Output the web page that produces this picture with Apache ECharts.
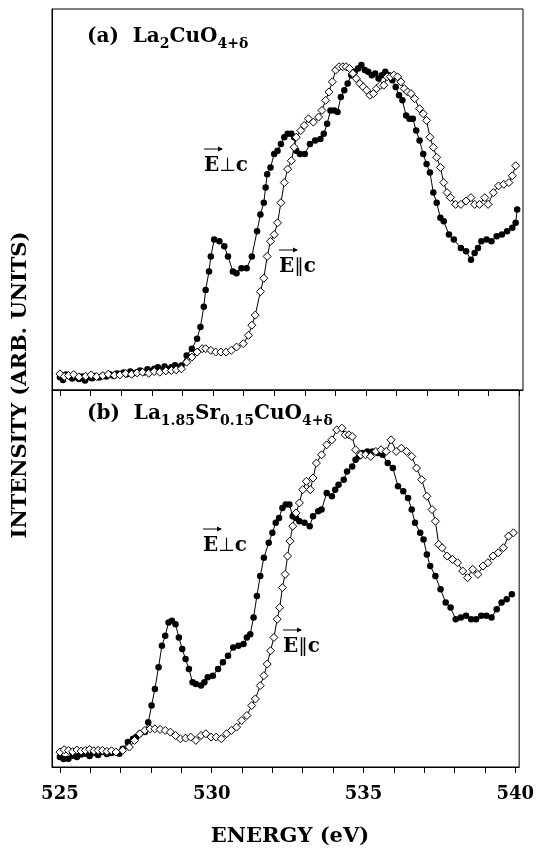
<!DOCTYPE html>
<html>
<head>
<meta charset="utf-8">
<script src="https://cdn.jsdelivr.net/npm/echarts@6/dist/echarts.min.js"></script>
<style>
html,body{margin:0;padding:0;background:#fff;}
#chart{width:537px;height:850px;}
</style>
</head>
<body>
<div id="chart"></div>
<script>
// ---------- DATA (energy in eV, intensity in arbitrary units) ----------
// Panel (a) La2CuO4+d, E perpendicular c (filled circles)
var aPerpE = [
525.00,525.10,525.20,525.28,525.40,525.50,525.62,525.72,525.82,525.95,
526.05,526.15,526.28,526.40,526.52,526.64,526.76,526.86,526.96,527.08,
527.18,527.30,527.40,527.52,527.62,527.74,527.86,527.96,528.08,528.20,
528.32,528.42,528.54,528.64,528.76,528.86,528.97,529.14,529.31,529.48,
529.59,529.70,529.76,529.87,529.93,530.04,530.21,530.37,530.49,530.65,
530.77,530.93,531.10,531.27,531.44,531.55,531.66,531.72,531.77,531.88,
532.00,532.11,532.22,532.33,532.44,532.56,532.65,532.72,532.84,533.00,
533.17,533.34,533.51,533.62,533.73,533.84,533.96,534.07,534.18,534.29,
534.40,534.52,534.63,534.74,534.85,534.96,535.07,535.19,535.30,535.41,
535.52,535.63,535.75,535.86,535.97,536.08,536.19,536.31,536.42,536.53,
536.64,536.75,536.87,536.98,537.09,537.20,537.31,537.43,537.54,537.71,
537.87,538.10,538.27,538.43,538.55,538.66,538.77,538.94,539.10,539.27,
539.44,539.61,539.78,539.89,539.94];
var aPerpI = [
3.8,3.0,4.6,4.3,3.4,3.9,3.3,4.0,2.8,3.8,
3.5,4.2,3.7,4.3,4.0,4.6,4.2,4.9,4.8,5.2,
4.7,5.5,5.0,5.3,5.8,5.2,6.2,5.6,6.3,6.8,
5.9,7.0,6.2,6.8,7.4,6.6,7.3,10.3,12.3,15.3,
18.8,24.8,29.8,35.3,39.8,44.8,44.3,42.8,39.8,35.3,
34.8,36.3,36.3,39.8,47.3,52.3,55.8,60.3,64.3,66.3,
70.3,71.3,73.3,75.3,76.3,76.3,75.3,71.3,70.3,70.3,
73.3,74.3,74.8,76.3,79.3,83.3,83.3,82.8,87.3,89.3,
91.3,93.8,94.8,95.8,96.8,95.3,94.8,93.8,94.3,92.8,
93.8,94.8,93.8,92.3,90.3,87.8,86.3,81.8,80.8,80.8,
77.3,74.3,70.3,67.3,64.8,58.8,55.8,51.3,50.3,46.3,
44.8,42.3,41.3,38.8,40.8,42.3,44.3,44.8,44.3,45.8,
46.3,47.3,48.3,49.8,53.8];

// Panel (a), E parallel c (open diamonds)
var aParE = [
525.00,525.14,525.28,525.45,525.62,525.84,526.02,526.20,526.40,526.58,
526.78,526.96,527.15,527.34,527.52,527.70,527.90,528.08,528.26,528.46,
528.64,528.80,528.97,529.14,529.31,529.48,529.65,529.76,529.93,530.09,
530.26,530.43,530.60,530.77,530.99,531.16,531.27,531.38,531.55,531.66,
531.77,531.88,532.00,532.11,532.22,532.33,532.44,532.56,532.65,532.72,
532.87,532.98,533.12,533.28,533.45,533.56,533.68,533.79,533.90,534.01,
534.12,534.24,534.35,534.46,534.57,534.68,534.80,534.91,535.02,535.13,
535.24,535.35,535.47,535.58,535.69,535.80,535.91,536.03,536.14,536.25,
536.36,536.47,536.59,536.75,536.87,536.98,537.09,537.20,537.31,537.43,
537.54,537.65,537.76,537.93,538.10,538.27,538.43,538.55,538.71,538.88,
538.99,539.16,539.33,539.50,539.67,539.78,539.89];
var aParI = [
4.8,4.0,4.3,4.6,3.9,4.1,4.5,4.0,4.3,4.7,
4.4,4.5,4.9,4.7,5.1,5.3,5.0,5.5,5.3,5.7,
5.8,6.0,6.3,8.3,9.8,11.3,12.3,12.3,11.8,11.3,
11.3,11.3,11.8,12.8,13.8,16.3,19.3,22.3,29.3,33.3,
39.8,44.3,46.3,49.8,55.8,61.8,65.8,68.3,72.3,75.3,
77.3,78.8,80.8,79.8,81.3,83.3,86.3,88.8,91.8,95.3,
96.3,96.3,96.3,95.8,94.3,92.8,91.3,90.3,89.3,87.8,
88.3,89.8,90.8,90.8,93.3,93.3,93.8,93.3,91.8,89.8,
88.8,88.3,86.8,83.8,82.3,80.3,75.3,72.3,69.3,66.3,
61.8,58.8,57.3,55.3,55.3,56.3,57.3,55.3,55.3,57.3,
55.3,58.8,60.8,61.3,61.8,63.8,66.8];

// Panel (b) La1.85Sr0.15CuO4+d, E perpendicular c (filled circles)
var bPerpE = [
525.00,525.12,525.28,525.42,525.56,525.70,525.84,525.98,526.12,526.26,
526.40,526.55,526.70,526.85,526.96,527.07,527.24,527.41,527.52,527.63,
527.80,527.91,528.02,528.13,528.25,528.36,528.47,528.58,528.69,528.81,
528.92,529.03,529.14,529.25,529.37,529.48,529.65,529.76,529.87,530.04,
530.21,530.37,530.54,530.71,530.88,531.05,531.16,531.27,531.38,531.49,
531.60,531.72,531.88,532.00,532.11,532.22,532.33,532.44,532.56,532.67,
532.78,532.89,533.06,533.23,533.34,533.51,533.62,533.79,533.96,534.07,
534.18,534.35,534.46,534.63,534.74,534.85,534.96,535.13,535.30,535.47,
535.63,535.80,535.97,536.14,536.31,536.47,536.59,536.70,536.87,536.98,
537.09,537.20,537.37,537.54,537.71,537.87,538.04,538.21,538.38,538.55,
538.71,538.88,539.05,539.22,539.39,539.55,539.72,539.89];
var bPerpI = [
3.0,2.4,2.5,3.4,3.0,3.8,4.0,3.3,4.2,3.6,
4.5,3.9,4.2,4.5,4.0,5.5,7.5,8.5,9.0,10.0,
10.5,13.5,18.5,23.5,30.0,36.5,39.5,43.5,44.0,43.0,
39.0,35.5,32.5,29.5,25.5,25.0,24.5,25.5,27.0,27.5,
29.5,31.5,33.5,36.0,36.5,37.0,39.0,40.0,45.0,51.5,
57.5,63.0,67.5,70.5,73.5,75.0,78.0,79.0,79.0,75.5,
75.0,74.0,73.5,72.5,75.5,77.0,77.5,82.5,81.5,83.5,
85.0,86.5,89.0,90.5,92.5,93.5,94.5,95.0,95.0,94.5,
94.0,91.5,90.0,84.5,83.0,81.0,77.5,73.5,70.5,68.5,
64.0,60.5,57.5,53.5,49.5,48.0,44.5,45.0,45.5,44.5,
44.5,45.5,45.5,45.0,47.5,49.5,50.5,52.0];

// Panel (b), E parallel c (open diamonds)
var bParE = [
525.00,525.14,525.28,525.42,525.56,525.70,525.84,525.98,526.12,526.26,
526.40,526.55,526.70,526.85,527.07,527.29,527.46,527.63,527.80,527.97,
528.13,528.30,528.47,528.64,528.81,528.97,529.14,529.31,529.48,529.65,
529.81,529.98,530.15,530.32,530.49,530.65,530.82,530.99,531.16,531.32,
531.44,531.60,531.72,531.83,531.94,532.05,532.16,532.24,532.33,532.42,
532.50,532.58,532.67,532.78,532.89,533.00,533.12,533.25,533.34,533.45,
533.62,533.79,533.96,534.12,534.29,534.40,534.52,534.63,534.74,534.91,
535.07,535.24,535.41,535.58,535.75,535.91,536.08,536.25,536.42,536.59,
536.75,536.92,537.09,537.26,537.37,537.48,537.59,537.76,537.93,538.10,
538.27,538.43,538.60,538.77,538.94,539.10,539.27,539.44,539.61,539.78,
539.94];
var bParI = [
4.5,5.2,5.0,4.6,5.1,4.8,5.0,5.3,4.9,5.0,
5.0,4.7,4.9,4.5,5.0,6.0,8.0,10.0,11.0,11.5,
11.5,11.3,11.0,10.5,9.5,8.5,8.7,9.0,8.0,9.5,
10.0,9.0,9.0,8.5,10.0,11.0,12.0,14.0,15.5,18.5,
20.5,24.5,27.5,31.0,35.0,39.0,44.5,48.0,54.0,58.0,
63.5,68.0,72.5,76.5,79.5,83.5,86.0,83.5,87.0,91.5,
94.0,97.0,98.5,101.5,102.0,100.0,100.0,99.5,95.5,94.0,
94.0,93.5,95.0,95.5,95.0,98.5,95.0,96.0,95.0,93.5,
90.0,86.5,81.5,77.5,74.0,67.0,66.0,63.5,62.5,61.5,
59.0,57.0,59.5,58.0,60.5,61.5,63.5,64.5,66.0,69.5,
70.5];

// Axis ticks and labels
var xTicks = [525,526,527,528,529,530,531,532,533,534,535,536,537,538,539,540];
var xLabels = [525,530,535,540];
var xMin = 524.74, xMax = 540.13;
var yMax = 113.5;

// ---------- CHART ----------
function pairs(xs, ys) { var n = Math.min(xs.length, ys.length); var out = []; for (var i = 0; i < n; i++) out.push([xs[i], ys[i]]); return out; }

var SERIF = '"DejaVu Serif", "Liberation Serif", serif';

function xAxisCfg(grid, showLabels) {
  return {
    gridIndex: grid, type: 'value', min: xMin, max: xMax,
    axisLine: { show: true, lineStyle: { color: '#000', width: 1 } },
    axisTick: { show: true, inside: false, length: 6, customValues: xTicks, lineStyle: { color: '#000', width: 1 } },
    axisLabel: { show: showLabels, customValues: xLabels, color: '#000', fontFamily: SERIF, fontWeight: 'bold', fontSize: 18, margin: 18 },
    splitLine: { show: false }
  };
}
function yAxisCfg(grid) {
  return {
    gridIndex: grid, type: 'value', min: 0, max: yMax,
    axisLine: { show: true, lineStyle: { color: '#000' } },
    axisTick: { show: false }, axisLabel: { show: false }, splitLine: { show: false }
  };
}
function perpSeries(idx, data) {
  return { type: 'line', xAxisIndex: idx, yAxisIndex: idx, data: data, symbol: 'circle', symbolSize: 6.5,
    showAllSymbol: true, itemStyle: { color: '#000', borderColor: '#000', borderWidth: 0 },
    lineStyle: { color: '#000', width: 1 }, z: 3 };
}
function parSeries(idx, data) {
  return { type: 'line', xAxisIndex: idx, yAxisIndex: idx, data: data, symbol: 'diamond', symbolSize: 8,
    showAllSymbol: true, itemStyle: { color: '#fff', borderColor: '#000', borderWidth: 1 },
    lineStyle: { color: '#000', width: 1 }, z: 4 };
}

function label(x, y, text, rich) {
  return { type: 'text', x: x, y: y, z: 10, style: { text: text, rich: rich, fill: '#000', align: 'left', verticalAlign: 'middle' } };
}
var richMain = {
  m: { fontFamily: SERIF, fontWeight: 'bold', fontSize: 20, lineHeight: 28, fill: '#000', verticalAlign: 'middle' },
  s: { fontFamily: SERIF, fontWeight: 'bold', fontSize: 14, lineHeight: 14, fill: '#000', verticalAlign: 'bottom' }
};
var richE = {
  e: { fontFamily: SERIF, fontWeight: 'bold', fontSize: 20, fill: '#000' },
  o: { fontFamily: '"DejaVu Sans", sans-serif', fontWeight: 'normal', fontSize: 19, fill: '#000' }
};
function arrow(x1, x2, y) {
  return [
    { type: 'line', z: 10, shape: { x1: x1, y1: y, x2: x2, y2: y }, style: { stroke: '#000', lineWidth: 1 } },
    { type: 'polygon', z: 10, shape: { points: [[x2 - 4, y - 2.5], [x2 + 1, y], [x2 - 4, y + 2.5]] }, style: { fill: '#000' } }
  ];
}

var graphics = [
  label(87, 37, '{m|(a)  La}{s|2}{m|CuO}{s|4+δ}', richMain),
  label(87, 414, '{m|(b)  La}{s|1.85}{m|Sr}{s|0.15}{m|CuO}{s|4+δ}', richMain),
  label(204, 166, '{e|E}{o|⊥}{e|c}', richE),
  label(279, 267, '{e|E}{o|∥}{e|c}', richE),
  label(203, 546, '{e|E}{o|⊥}{e|c}', richE),
  label(283, 647, '{e|E}{o|∥}{e|c}', richE),
  { type: 'text', x: 21, y: 385, rotation: Math.PI / 2, z: 10,
    style: { text: 'INTENSITY (ARB. UNITS)', fontFamily: SERIF, fontWeight: 'bold', fontSize: 21, fill: '#000', align: 'center', verticalAlign: 'middle' } },
  { type: 'text', x: 290, y: 837, z: 10,
    style: { text: 'ENERGY (eV)', fontFamily: SERIF, fontWeight: 'bold', fontSize: 21, fill: '#000', align: 'center', verticalAlign: 'middle' } }
].concat(arrow(204, 222, 149), arrow(279, 297, 250), arrow(203, 221, 529), arrow(283, 301, 630));

var chart = echarts.init(document.getElementById('chart'), null, { renderer: 'canvas' });
chart.setOption({
  animation: false,
  backgroundColor: '#fff',
  grid: [
    { left: 52, top: 9, width: 471, height: 381, show: true, borderColor: '#000', borderWidth: 1, containLabel: false },
    { left: 52, top: 390, width: 471, height: 377, show: true, borderColor: '#000', borderWidth: 1, containLabel: false }
  ],
  xAxis: [xAxisCfg(0, false), xAxisCfg(1, true)],
  yAxis: [yAxisCfg(0), yAxisCfg(1)],
  series: [
    perpSeries(0, pairs(aPerpE, aPerpI)),
    parSeries(0, pairs(aParE, aParI)),
    perpSeries(1, pairs(bPerpE, bPerpI)),
    parSeries(1, pairs(bParE, bParI))
  ],
  graphic: graphics
});
</script>
</body>
</html>
